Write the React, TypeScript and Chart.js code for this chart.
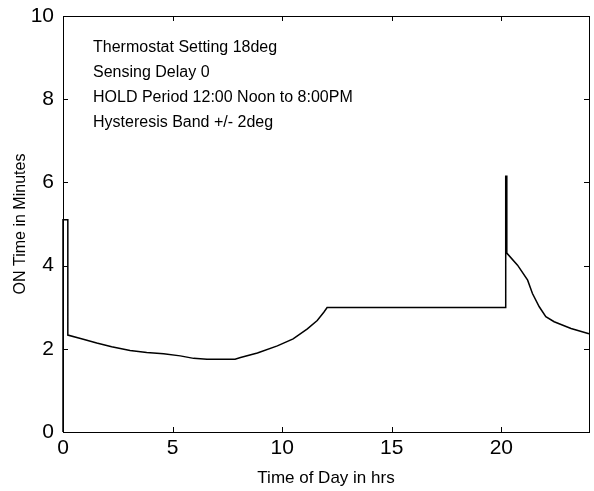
import React, { useEffect, useRef } from "react";
import { Chart, registerables } from "chart.js";

Chart.register(...registerables);

const timeHrs = [
  0, 0, 0.22, 0.22, 0.8, 1.54, 2.22, 3.06, 3.82, 4.59, 5.35, 5.96, 6.57, 7.85,
  8.1, 8.87, 9.78, 10.5, 11.15, 11.6, 11.9, 12.05, 20.2, 20.2, 20.25, 20.25,
  20.74, 21.2, 21.42, 21.73, 22.03, 22.41, 23.18, 24,
];
const onTimeMin = [
  0, 5.1, 5.1, 2.33, 2.25, 2.14, 2.05, 1.96, 1.91, 1.88, 1.83, 1.77, 1.75, 1.75,
  1.79, 1.9, 2.07, 2.24, 2.48, 2.68, 2.88, 2.99, 2.99, 6.15, 6.15, 4.3, 4.01,
  3.65, 3.33, 3.01, 2.77, 2.65, 2.49, 2.36,
];
const xTicks = [0, 5, 10, 15, 20];
const yTicks = [0, 2, 4, 6, 8, 10];
const noteLines = [
  "Thermostat Setting 18deg",
  "Sensing Delay 0",
  "HOLD Period 12:00 Noon to 8:00PM",
  "Hysteresis Band +/- 2deg",
];
const noteX = 1.37;
const noteY = 9.25;

const FONT = "'Liberation Sans', Arial, sans-serif";

const framePlugin = {
  id: "matlabFrame",
  afterDraw(chart: any) {
    const { ctx, chartArea } = chart;
    const xs = chart.scales.x;
    const ys = chart.scales.y;
    const { left, right, top, bottom } = chartArea;
    ctx.save();
    ctx.strokeStyle = "#000";
    ctx.lineWidth = 1;
    ctx.strokeRect(left + 0.5, top + 0.5, right - left, bottom - top);
    const tl = 5;
    ctx.beginPath();
    xTicks.forEach((v) => {
      const px = Math.round(xs.getPixelForValue(v)) + 0.5;
      ctx.moveTo(px, bottom);
      ctx.lineTo(px, bottom - tl);
      ctx.moveTo(px, top);
      ctx.lineTo(px, top + tl);
    });
    yTicks.forEach((v) => {
      const py = Math.round(ys.getPixelForValue(v)) + 0.5;
      ctx.moveTo(left, py);
      ctx.lineTo(left + tl, py);
      ctx.moveTo(right, py);
      ctx.lineTo(right - tl, py);
    });
    ctx.stroke();
    ctx.fillStyle = "#000";
    ctx.font = `16px ${FONT}`;
    ctx.textAlign = "left";
    ctx.textBaseline = "middle";
    const nx = xs.getPixelForValue(noteX);
    const ny = ys.getPixelForValue(noteY);
    noteLines.forEach((t, i) => {
      ctx.fillText(t, nx, ny + i * 25);
    });
    ctx.restore();
  },
};

export default function App() {
  const ref = useRef<HTMLCanvasElement>(null);
  useEffect(() => {
    if (!ref.current) return;
    const chart = new Chart(ref.current, {
      type: "scatter",
      data: {
        datasets: [
          {
            data: timeHrs.map((x, i) => ({ x, y: onTimeMin[i] })),
            showLine: true,
            borderColor: "#000",
            borderWidth: 1.5,
            pointRadius: 0,
            fill: false,
            tension: 0,
            clip: 4,
          },
        ],
      },
      options: {
        animation: false,
        responsive: false,
        layout: { padding: { left: 0, right: 5, top: 16, bottom: 0 } },
        plugins: { legend: { display: false }, tooltip: { enabled: false } },
        scales: {
          x: {
            type: "linear",
            min: 0,
            max: 24,
            grid: { display: false, drawTicks: false },
            border: { display: false },
            ticks: {
              stepSize: 5,
              includeBounds: false,
              color: "#000",
              padding: 4,
              font: { family: FONT, size: 21 },
            },
            title: {
              display: true,
              text: "Time of Day in hrs",
              color: "#000",
              font: { family: FONT, size: 17 },
              padding: { top: 0, bottom: 2 },
            },
            afterFit(scale: any) {
              scale.height = 59;
              scale.paddingLeft = 0;
              scale.paddingRight = 0;
            },
          },
          y: {
            type: "linear",
            min: 0,
            max: 10,
            grid: { display: false, drawTicks: false },
            border: { display: false },
            ticks: {
              stepSize: 2,
              color: "#000",
              padding: 9,
              font: { family: FONT, size: 21 },
            },
            title: {
              display: true,
              text: "ON Time in Minutes",
              color: "#000",
              font: { family: FONT, size: 16 },
              padding: { top: 11, bottom: 0 },
            },
            afterFit(scale: any) {
              scale.width = 63;
              scale.paddingTop = 0;
              scale.paddingBottom = 0;
            },
          },
        },
      },
      plugins: [framePlugin],
    });
    return () => chart.destroy();
  }, []);
  return (
    <div style={{ position: "absolute", left: 0, top: 0, width: 594, height: 491, background: "#fff" }}>
      <canvas ref={ref} width={594} height={491} />
    </div>
  );
}
